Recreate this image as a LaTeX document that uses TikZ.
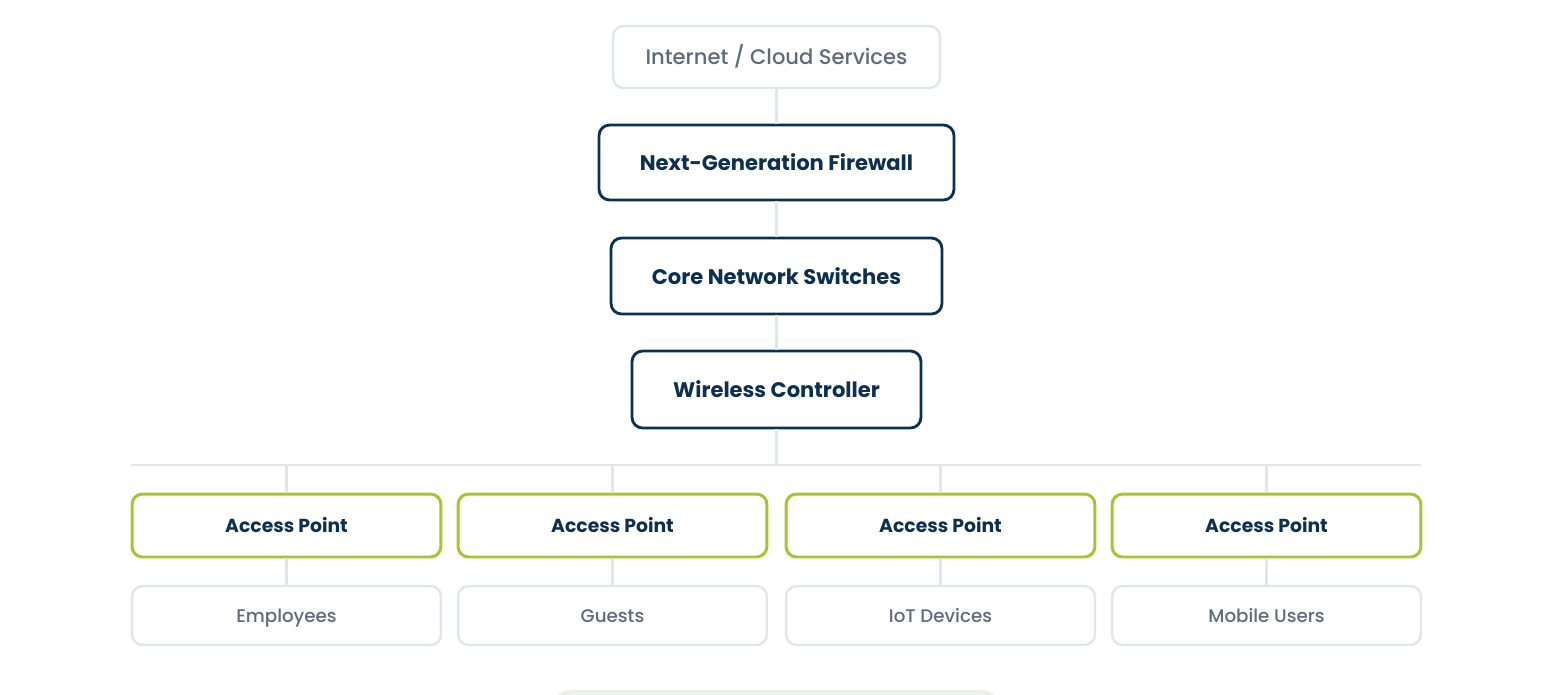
\documentclass[tikz,border=0pt]{standalone}
\usepackage{fontspec}
\setmainfont{Poppins}
\newfontfamily\popmedium{Poppins Medium}
\usepackage{tikz}
\usetikzlibrary{positioning}
\definecolor{netnavy}{HTML}{0D3050}
\definecolor{netgray}{HTML}{5E6B7B}
\definecolor{netline}{HTML}{E1E6EB}
\definecolor{apgreen}{HTML}{A8C530}
\definecolor{legendmint}{HTML}{EAF4EF}

\begin{document}
\begin{tikzpicture}[
  x=0.02cm, y=-0.02cm,
  outerbox/.style={draw=netline, fill=white, line width=1.4pt, rounded corners=6pt, text=netgray, font=\popmedium\fontsize{12}{14}\selectfont, minimum height=1.24cm, text height=1.7ex, text depth=.1ex},
  corebox/.style={draw=netnavy, fill=white, line width=1.6pt, rounded corners=6pt, text=netnavy, font=\fontsize{12}{14}\selectfont\bfseries},
  apbox/.style={draw=apgreen, fill=white, line width=1.7pt, rounded corners=6pt, text=netnavy, font=\fontsize{10.7}{12}\selectfont\bfseries, minimum width=6.18cm, minimum height=1.26cm},
  userbox/.style={draw=netline, fill=white, line width=1.4pt, rounded corners=6pt, text=netgray, font=\popmedium\fontsize{10.4}{12}\selectfont, minimum width=6.18cm, minimum height=1.18cm, text height=1.6ex, text depth=.2ex},
  link/.style={draw=netline, line width=1.4pt}
]
\clip (0,0) rectangle (1562,694);

\node[outerbox, minimum width=6.54cm] (cloud) at (776.5,57) {Internet / Cloud Services};
\node[corebox, minimum width=7.1cm, minimum height=1.5cm] (firewall) at (776.5,162.5) {Next-Generation Firewall};
\node[corebox, minimum width=6.62cm, minimum height=1.52cm] (switches) at (776.5,276) {Core Network Switches};
\node[corebox, minimum width=5.78cm, minimum height=1.54cm] (controller) at (776.5,389.5) {Wireless Controller};

\draw[link] (cloud.south) -- (firewall.north);
\draw[link] (firewall.south) -- (switches.north);
\draw[link] (switches.south) -- (controller.north);

\coordinate (busleft) at (131,465);
\coordinate (busright) at (1421,465);
\draw[link] (busleft) -- (busright);
\draw[link] (controller.south) -- (controller.south |- busleft);

\node[apbox] (apone) at (286.5,525.5) {Access Point};
\node[apbox] (aptwo) at (612.5,525.5) {Access Point};
\node[apbox] (apthree) at (940.5,525.5) {Access Point};
\node[apbox] (apfour) at (1266.5,525.5) {Access Point};

\node[userbox] (employees) at (286.5,615.5) {Employees};
\node[userbox] (guests) at (612.5,615.5) {Guests};
\node[userbox] (iot) at (940.5,615.5) {IoT Devices};
\node[userbox] (mobile) at (1266.5,615.5) {Mobile Users};

\draw[link] (apone.north |- busleft) -- (apone.north);
\draw[link] (aptwo.north |- busleft) -- (aptwo.north);
\draw[link] (apthree.north |- busleft) -- (apthree.north);
\draw[link] (apfour.north |- busleft) -- (apfour.north);
\draw[link] (apone.south) -- (employees.north);
\draw[link] (aptwo.south) -- (guests.north);
\draw[link] (apthree.south) -- (iot.north);
\draw[link] (apfour.south) -- (mobile.north);

\node[draw=legendmint!80!netline, fill=legendmint, line width=1pt, rounded corners=12pt, minimum width=9.04cm, minimum height=1.2cm] (legend) at (776,721) {};
\end{tikzpicture}
\end{document}
